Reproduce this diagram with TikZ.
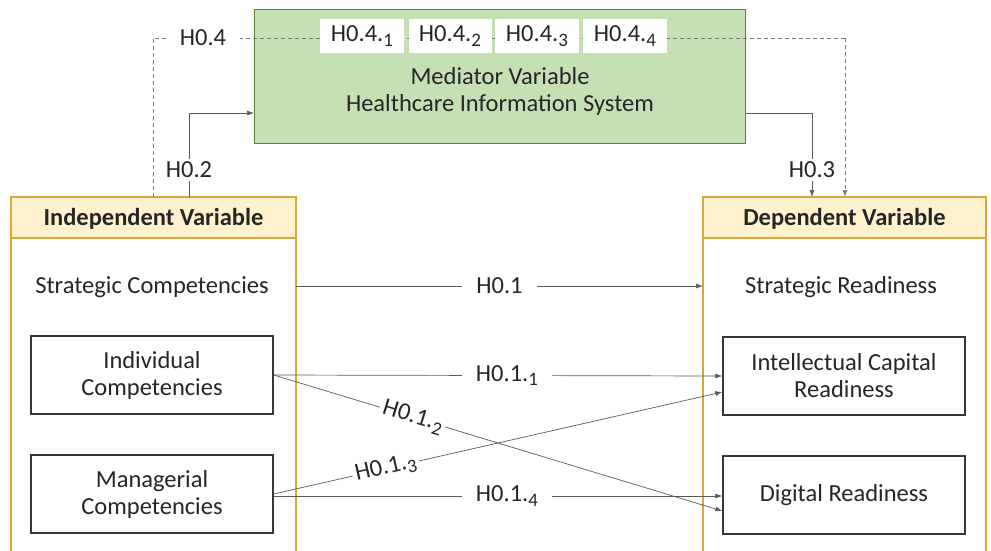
\documentclass[tikz,border=0pt]{standalone}
\usepackage{fontspec}
\setmainfont{Carlito}
\usetikzlibrary{arrows.meta}
\definecolor{goldline}{RGB}{212,170,60}
\definecolor{headfill}{RGB}{255,242,204}
\definecolor{medfill}{RGB}{197,224,180}
\definecolor{medline}{RGB}{84,130,53}
\definecolor{boxline}{RGB}{55,55,55}
\definecolor{conn}{RGB}{90,90,90}
\tikzset{
  every node/.style={font=\fontsize{24.5}{27}\selectfont, text=black!85},
  container/.style={draw=goldline, line width=1.4pt},
  header/.style={draw=goldline, fill=headfill, line width=1.4pt},
  itembox/.style={draw=boxline, line width=1.3pt, fill=white},
  medbox/.style={draw=medline, fill=medfill, line width=1.2pt},
  tagbox/.style={fill=white, inner sep=0pt, minimum height=34pt},
  lbl/.style={fill=white, inner sep=3pt},
  link/.style={draw=conn, line width=0.7pt, -{Latex[length=7pt,width=5pt]}},
  dlink/.style={link, dashed, dash pattern=on 4pt off 3pt, draw=conn!80},
}
% hypothesis label with a lowered index
\newcommand{\hsub}[2]{#1.\raisebox{-0.4ex}{\fontsize{19}{20}\selectfont #2}}
\begin{document}
\begin{tikzpicture}[x=1pt,y=-1pt]
\useasboundingbox (0,0) rectangle (991,550);
\clip (0,0) rectangle (991,550);

% containers
\draw[container] (11,197) rectangle (296,560);
\draw[header] (11,197) rectangle (296,238);
\node[font=\fontsize{24.5}{27}\selectfont\bfseries] (indh) at (153.5,219) {Independent Variable};

\draw[container] (703,197) rectangle (986,560);
\draw[header] (703,197) rectangle (986,238);
\node[font=\fontsize{24.5}{27}\selectfont\bfseries] (deph) at (844.5,219) {Dependent Variable};

% mediator
\node[medbox, minimum width=491pt, minimum height=134pt, anchor=north west] (med) at (254,9) {};
\node[align=center] (medtxt) at (500,91) {Mediator Variable\\Healthcare Information System};

% left items
\node (sc) at (152,287) {Strategic Competencies};
\node[itembox, align=center, minimum width=242pt, minimum height=78pt] (ic) at (152,375) {Individual\\Competencies};
\node[itembox, align=center, minimum width=242pt, minimum height=78pt] (mc) at (152,494) {Managerial\\Competencies};

% right items
\node (sr) at (841,287) {Strategic Readiness};
\node[itembox, align=center, minimum width=242pt, minimum height=78pt] (icr) at (844,376) {Intellectual Capital\\Readiness};
\node[itembox, minimum width=242pt, minimum height=78pt] (dr) at (844,495) {Digital Readiness};

% mediation paths (dashed)
\coordinate (dl) at (153,197);
\coordinate (dlt) at (153,38);
\coordinate (drt) at (845,38);
\coordinate (drb) at (845,197);
\draw[draw=conn!80, line width=0.7pt, dashed, dash pattern=on 4pt off 3pt] (dl) -- (dlt) -- (drt);
\draw[dlink] (drt) -- (drb);
\node[lbl, inner xsep=14pt] (h04) at (203,38) {H0.4};
\node[tagbox, minimum width=84pt] (t1) at (362,36) {\hsub{H0.4}{1}};
\node[tagbox, minimum width=83pt] (t2) at (450,36) {\hsub{H0.4}{2}};
\node[tagbox, minimum width=84pt] (t3) at (537,36) {\hsub{H0.4}{3}};
\node[tagbox, minimum width=84pt] (t4) at (625,36) {\hsub{H0.4}{4}};

% H0.2 and H0.3
\coordinate (a2) at (189,197);
\draw[link] (a2) |- (med.west |- 0,113);
\node[lbl] (h02) at (189,170) {H0.2};
\coordinate (b3) at (812,197);
\draw[link] (med.east |- 0,113) -| (b3);
\node[lbl] (h03) at (812,170) {H0.3};

% direct paths
\draw[link] (296,286) -- node[lbl, inner xsep=14pt] (h01) {H0.1} (703,286);
\draw[link] (ic.east) -- node[lbl, inner xsep=14pt, pos=0.52] (h011) {\hsub{H0.1}{1}} (icr.west);
\draw[link] (ic.east) -- node[lbl, sloped, pos=0.31] (h012) {\hsub{H0.1}{2}} ([yshift=-16pt]dr.west);
\draw[link] (mc.east) -- node[lbl, sloped, pos=0.25] (h013) {\hsub{H0.1}{3}} ([yshift=-16pt]icr.west);
\draw[link] ([yshift=-2pt]mc.east) -- node[lbl, inner xsep=14pt, pos=0.52] (h014) {\hsub{H0.1}{4}} ([yshift=-1pt]dr.west);
\end{tikzpicture}
\end{document}
